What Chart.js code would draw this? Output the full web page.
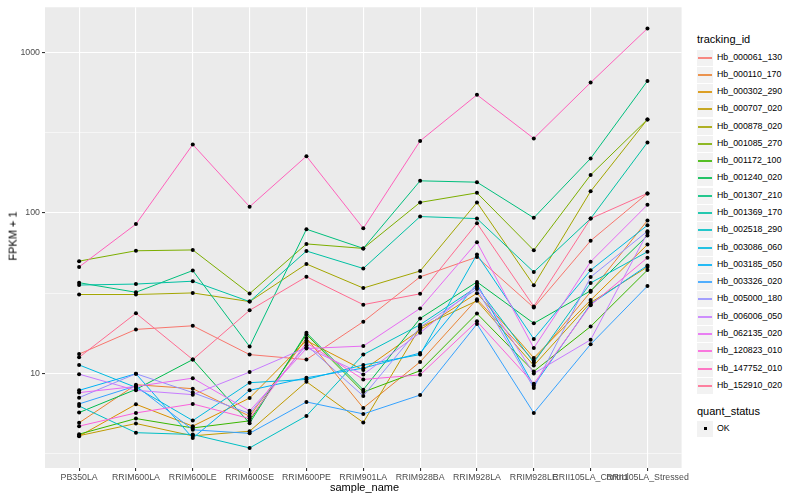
<!DOCTYPE html>
<html>
<head>
<meta charset="utf-8">
<script src="https://cdn.jsdelivr.net/npm/chart.js@4"></script>
<style>
  body { margin: 0; background: #fff; font-family: "Liberation Sans", Arial, sans-serif; }
  #wrap { position: relative; width: 800px; height: 500px; }
  #chart { position: absolute; left: 0; top: 0; }
  .ttl { position: absolute; font-size: 11px; color: #000; white-space: nowrap; }
  .key { position: absolute; left: 697px; width: 16px; height: 16px; background: #f2f2f2; }
  .key i { position: absolute; display: block; left: 1px; width: 14px; top: 7px; height: 2px; opacity: 0.85; }
  .key b { position: absolute; display: block; left: 7px; top: 6px; width: 3px; height: 3px; background: #000; }
  .lab { position: absolute; left: 717px; font-size: 8.8px; color: #000; white-space: nowrap; }
</style>
</head>
<body>
<div id="wrap">
  <canvas id="chart" width="690" height="500"></canvas>
  <div class="ttl" style="left:-12px;top:230px;transform:rotate(-90deg);">FPKM + 1</div>
  <div class="ttl" style="left:330px;top:481px;">sample_name</div>
  <div id="legend"></div>
</div>
<script>
const samples = ["PB350LA", "RRIM600LA", "RRIM600LE", "RRIM600SE", "RRIM600PE", "RRIM901LA",
  "RRIM928BA", "RRIM928LA", "RRIM928LE", "RRII105LA_Control", "RRII105LA_Stressed"];

const trackingIds = ["Hb_000061_130", "Hb_000110_170", "Hb_000302_290", "Hb_000707_020", "Hb_000878_020",
  "Hb_001085_270", "Hb_001172_100", "Hb_001240_020", "Hb_001307_210", "Hb_001369_170",
  "Hb_002518_290", "Hb_003086_060", "Hb_003185_050", "Hb_003326_020", "Hb_005000_180",
  "Hb_006006_050", "Hb_062135_020", "Hb_120823_010", "Hb_147752_010", "Hb_152910_020"];

// FPKM + 1 per sample
const hb_000061_130 = [13.2, 18.8, 19.8, 13.1, 12.2, 21, 39.9, 53, 25.7, 67, 132];
const hb_000110_170 = [4.93, 8.51, 8.04, 5.42, 16.6, 6.1, 11.8, 29.0, 12.0, 32.2, 89.6];
const hb_000302_290 = [4.07, 6.43, 4.7, 7.03, 16.0, 10.5, 18.7, 31.6, 12.5, 28.6, 63.4];
const hb_000707_020 = [4.1, 4.88, 4.09, 4.37, 8.88, 4.95, 19.4, 28.3, 11.2, 27.6, 46.0];
const hb_000878_020 = [31, 31, 31.7, 28, 48, 34, 43.4, 116, 35.4, 136, 381];
const hb_001085_270 = [50, 58, 58.7, 31.4, 64, 60, 116, 133, 58.4, 172, 381];
const hb_001172_100 = [4.19, 5.24, 4.58, 5.07, 17.5, 7.66, 10.4, 23.6, 10.3, 19.6, 44.0];
const hb_001240_020 = [5.71, 7.96, 12.2, 4.9, 17.9, 7.92, 22.0, 37.1, 20.5, 32.7, 72.1];
const hb_001307_210 = [36.7, 32, 43.7, 14.7, 79, 60, 158, 155, 93, 218, 661];
const hb_001369_170 = [35.5, 36, 37.5, 28, 57.8, 45, 94.7, 92, 42.8, 92, 274];
const hb_002518_290 = [6.27, 4.28, 4.17, 3.44, 5.44, 13.1, 20.1, 34.6, 11.7, 36.6, 57.2];
const hb_003086_060 = [11.3, 8.19, 5.09, 8.76, 9.18, 11.3, 13.1, 55, 16.4, 43.9, 83.6];
const hb_003185_050 = [7.85, 9.96, 3.96, 7.85, 9.4, 10.8, 13.4, 36.1, 8.39, 27.0, 47.0];
const hb_003326_020 = [6.46, 8.37, 4.46, 4.24, 6.65, 5.6, 7.34, 20.3, 5.68, 15.2, 35.0];
const hb_005000_180 = [7.07, 9.96, 7.6, 5.63, 15.0, 7.24, 19.4, 33.5, 8.11, 39.8, 76.7];
const hb_006006_050 = [9.9, 7.85, 7.38, 10.2, 14.5, 9.86, 17.9, 35, 10.0, 16.2, 75.0];
const hb_062135_020 = [7.6, 8.3, 9.35, 5.85, 14.3, 14.8, 25.4, 65.5, 14.4, 49.6, 112];
const hb_120823_010 = [4.7, 5.68, 6.46, 5.24, 15.5, 9.18, 9.8, 21.1, 8.63, 26.6, 52.5];
const hb_147752_010 = [46, 85, 266, 109, 225, 80, 280, 542, 290, 646, 1403];
const hb_152910_020 = [12.6, 23.7, 12.2, 24.7, 40, 26.8, 31.3, 86, 26.1, 92, 132];

const seriesValues = [hb_000061_130, hb_000110_170, hb_000302_290, hb_000707_020, hb_000878_020,
  hb_001085_270, hb_001172_100, hb_001240_020, hb_001307_210, hb_001369_170,
  hb_002518_290, hb_003086_060, hb_003185_050, hb_003326_020, hb_005000_180,
  hb_006006_050, hb_062135_020, hb_120823_010, hb_147752_010, hb_152910_020];

const yMajor = [10, 100, 1000];
const yMinor = [3.162, 31.62, 316.2];

// ggplot hue palette for 20 levels
const colors = ["#F8766D", "#EA8331", "#D89000", "#C09B00", "#A3A500", "#7CAE00", "#39B600", "#00BB4E",
  "#00BF7D", "#00C1A3", "#00BFC4", "#00BAE0", "#00B0F6", "#35A2FF", "#9590FF", "#C77CFF",
  "#E76BF3", "#FA62DB", "#FF62BC", "#FF6C91"];

const lineSets = seriesValues.map((vals, i) => ({
  label: trackingIds[i],
  data: vals.map((v, j) => ({ x: j, y: v })),
  borderColor: colors[i],
  borderWidth: 1,
  pointRadius: 0,
  tension: 0,
  order: 100 - i,
}));

const pointSet = {
  label: "OK",
  data: seriesValues.flatMap((vals) => vals.map((v, j) => ({ x: j, y: v }))),
  showLine: false,
  pointRadius: 2,
  pointBorderWidth: 0,
  pointBackgroundColor: "#000",
  order: 0,
};

const panelBg = {
  id: "panelBg",
  beforeDraw(chart) {
    const a = chart.chartArea;
    const ctx = chart.ctx;
    ctx.save();
    ctx.fillStyle = "#EBEBEB";
    ctx.fillRect(a.left, a.top, a.right - a.left, a.bottom - a.top);
    ctx.restore();
  },
};

const isMinor = (v) => yMinor.includes(v);

new Chart(document.getElementById("chart"), {
  type: "line",
  data: { datasets: [...lineSets, pointSet] },
  plugins: [panelBg],
  options: {
    responsive: false,
    animation: false,
    layout: { padding: { top: 5, right: 2, left: 0, bottom: 0 } },
    plugins: { legend: { display: false }, tooltip: { enabled: false } },
    scales: {
      x: {
        type: "linear",
        min: -0.6,
        max: samples.length - 1 + 0.6,
        afterBuildTicks: (s) => { s.ticks = samples.map((c, i) => ({ value: i })); },
        afterFit: (s) => { s.height = 32; },
        border: { display: false },
        grid: { color: "#fff", lineWidth: 1.1, tickLength: 3, tickColor: "#333" },
        ticks: {
          autoSkip: false, maxRotation: 0, padding: 1,
          color: "#4D4D4D", font: { family: "Liberation Sans", size: 8.8 },
          callback: (v) => samples[v],
        },
      },
      y: {
        type: "logarithmic",
        min: 2.58,
        max: 1900,
        afterBuildTicks: (s) => {
          s.ticks = [...yMinor, ...yMajor].sort((a, b) => a - b).map((v) => ({ value: v }));
        },
        afterFit: (s) => { s.width = 45; },
        border: { display: false },
        grid: {
          color: "#fff",
          lineWidth: (c) => (c.tick && isMinor(c.tick.value) ? 0.55 : 1.1),
          tickLength: 3,
          tickColor: (c) => (c.tick && isMinor(c.tick.value) ? "rgba(0,0,0,0)" : "#333"),
        },
        ticks: {
          padding: 2, color: "#4D4D4D", font: { family: "Liberation Sans", size: 8.8 },
          callback: (v) => (yMajor.includes(v) ? String(v) : ""),
        },
      },
    },
  },
});

// ggplot-style legend
const legend = document.getElementById("legend");
const add = (html) => legend.insertAdjacentHTML("beforeend", html);
add('<div class="ttl" style="left:697px;top:33px;">tracking_id</div>');
trackingIds.forEach((id, i) => {
  const top = Math.round(49.5 + i * 17.28);
  add(`<div class="key" style="top:${top}px"><i style="background-color:${colors[i]}"></i></div>`);
  add(`<div class="lab" style="top:${top + 2}px">${id}</div>`);
});
add('<div class="ttl" style="left:697px;top:405px;">quant_status</div>');
add('<div class="key" style="top:421px"><b></b></div>');
add('<div class="lab" style="top:423px">OK</div>');
</script>
</body>
</html>
